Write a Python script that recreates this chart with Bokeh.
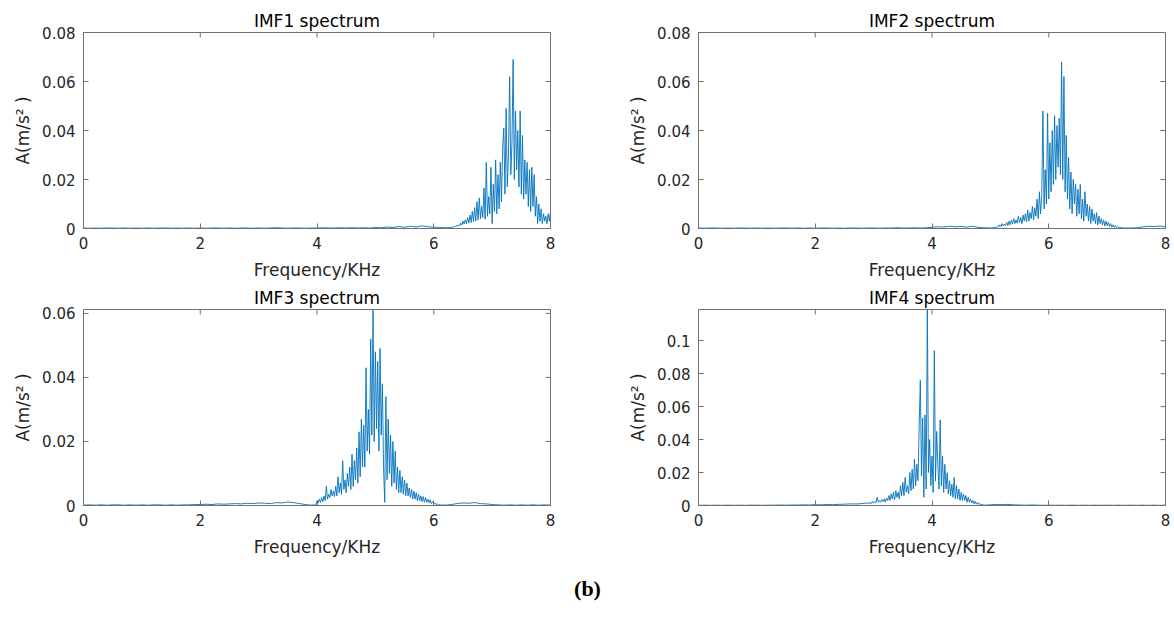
import numpy as np
from bokeh.plotting import figure
from bokeh.models import Range1d, FixedTicker, Label
from bokeh.layouts import column, row
from bokeh.embed import file_html
from bokeh.resources import INLINE

# ---------------- data ----------------
titles = ["IMF1 spectrum", "IMF2 spectrum", "IMF3 spectrum", "IMF4 spectrum"]
x_label = "Frequency/KHz"
y_label = "A(m/s\u00b2 )"
caption = "(b)"
x_ticks = [0, 2, 4, 6, 8]
y_ticks_12 = [0, 0.02, 0.04, 0.06, 0.08]
y_ticks_3 = [0, 0.02, 0.04, 0.06]
y_ticks_4 = [0, 0.02, 0.04, 0.06, 0.08, 0.1]
x_max = 8
y_max = [0.08, 0.08, 0.0612, 0.119]

# IMF1: coarse part 0.0-6.3 kHz (step 0.1), fine part 6.32-8.00 kHz (step 0.02)
imf1_low = [0.0002, 0.0001, 0.0002, 0.0001, 0.0002, 0.0002, 0.0001, 0.0002, 0.0001, 0.0002,
            0.0001, 0.0002, 0.0001, 0.0002, 0.0002, 0.0001, 0.0002, 0.0001, 0.0002, 0.0001,
            0.0002, 0.0001, 0.0002, 0.0002, 0.0001, 0.0002, 0.0001, 0.0002, 0.0002, 0.0001,
            0.0002, 0.0001, 0.0002, 0.0003, 0.0002, 0.0001, 0.0002, 0.0002, 0.0001, 0.0002,
            0.0002, 0.0003, 0.0002, 0.0002, 0.0003, 0.0002, 0.0003, 0.0002, 0.0003, 0.0002,
            0.0004, 0.0003, 0.0006, 0.0004, 0.0008, 0.0005, 0.0009, 0.0006, 0.0011, 0.0007,
            0.0005, 0.0004, 0.0003, 0.0004]
imf1_peak = [0.0005, 0.0008, 0.0006, 0.0012, 0.0009, 0.0015, 0.001, 0.0022, 0.0014, 0.003,
             0.0018, 0.0035, 0.002, 0.0045, 0.0022, 0.0055, 0.0025, 0.007, 0.0028, 0.0085,
             0.003, 0.011, 0.0035, 0.0125, 0.004, 0.009, 0.0045, 0.0165, 0.0038, 0.027,
             0.005, 0.013, 0.006, 0.025, 0.002, 0.018, 0.007, 0.028, 0.006, 0.022,
             0.008, 0.027, 0.011, 0.033, 0.041, 0.014, 0.049, 0.017, 0.03, 0.062,
             0.022, 0.035, 0.069, 0.02, 0.048, 0.024, 0.04, 0.017, 0.048, 0.014,
             0.038, 0.012, 0.028, 0.014, 0.027, 0.009, 0.024, 0.007, 0.025, 0.009,
             0.022, 0.005, 0.013, 0.002, 0.01, 0.003, 0.008, 0.002, 0.006, 0.003,
             0.005, 0.002, 0.006, 0.003, 0.007]

# IMF2: 0.0-5.0 (0.1), 5.10-7.30 (0.02), 7.4-8.0 (0.1)
imf2_low = [0.0002, 0.0001, 0.0002, 0.0002, 0.0001, 0.0002, 0.0001, 0.0002, 0.0002, 0.0001,
            0.0002, 0.0001, 0.0002, 0.0001, 0.0002, 0.0002, 0.0001, 0.0002, 0.0001, 0.0002,
            0.0001, 0.0002, 0.0002, 0.0001, 0.0002, 0.0001, 0.0002, 0.0002, 0.0001, 0.0002,
            0.0002, 0.0001, 0.0002, 0.0002, 0.0003, 0.0002, 0.0002, 0.0003, 0.0002, 0.0003,
            0.0005, 0.0007, 0.0006, 0.0009, 0.0007, 0.0008, 0.0006, 0.0009, 0.0004, 0.0003,
            0.0002]
imf2_peak = [0.0004, 0.001, 0.0006, 0.0015, 0.0008, 0.002, 0.001, 0.0018, 0.0012, 0.0025,
             0.0012, 0.003, 0.0015, 0.0035, 0.0018, 0.004, 0.002, 0.0035, 0.0022, 0.005,
             0.0025, 0.0045, 0.002, 0.0055, 0.003, 0.006, 0.0028, 0.0075, 0.003, 0.0065,
             0.004, 0.009, 0.0035, 0.0085, 0.005, 0.012, 0.004, 0.015, 0.006, 0.013,
             0.048, 0.008, 0.024, 0.01, 0.047, 0.012, 0.035, 0.015, 0.04, 0.018,
             0.046, 0.02, 0.042, 0.025, 0.045, 0.022, 0.068, 0.02, 0.062, 0.015,
             0.038, 0.012, 0.029, 0.008, 0.023, 0.006, 0.02, 0.01, 0.018, 0.005,
             0.016, 0.006, 0.018, 0.004, 0.012, 0.003, 0.015, 0.005, 0.01, 0.003,
             0.009, 0.002, 0.008, 0.003, 0.006, 0.002, 0.0065, 0.0015, 0.005, 0.002,
             0.004, 0.0015, 0.0035, 0.001, 0.003, 0.0012, 0.0025, 0.0008, 0.002, 0.0006,
             0.0015, 0.0005, 0.0012, 0.0004, 0.0008, 0.0003, 0.0005, 0.0002, 0.0004, 0.0002,
             0.0002]
imf2_high = [0.0002, 0.0003, 0.0006, 0.0009, 0.0008, 0.001, 0.0007]

# IMF3: 0.0-3.9 (0.1), 3.96-6.20 (0.02), 6.3-8.0 (0.1)
imf3_low = [0.0001, 0.0002, 0.0001, 0.0002, 0.0001, 0.0002, 0.0002, 0.0001, 0.0002, 0.0001,
            0.0002, 0.0001, 0.0002, 0.0002, 0.0001, 0.0002, 0.0001, 0.0002, 0.0002, 0.0003,
            0.0003, 0.0004, 0.0003, 0.0005, 0.0004, 0.0005, 0.0006, 0.0005, 0.0007, 0.0006,
            0.0008, 0.0007, 0.0006, 0.0009, 0.0008, 0.0011, 0.0009, 0.0006, 0.0003, 0.0001]
imf3_peak = [0.0002, 0.0001, 0.0015, 0.0008, 0.002, 0.001, 0.0025, 0.0012, 0.003, 0.0015,
             0.006, 0.002, 0.0035, 0.0025, 0.005, 0.003, 0.0045, 0.0028, 0.006, 0.003,
             0.009, 0.004, 0.007, 0.0035, 0.014, 0.005, 0.008, 0.004, 0.01, 0.006,
             0.012, 0.005, 0.016, 0.006, 0.014, 0.008, 0.018, 0.007, 0.023, 0.009,
             0.027, 0.012, 0.025, 0.012, 0.043, 0.017, 0.03, 0.016, 0.052, 0.022,
             0.061, 0.02, 0.048, 0.024, 0.045, 0.017, 0.049, 0.022, 0.038, 0.012,
             0.001, 0.034, 0.008, 0.027, 0.01, 0.022, 0.006, 0.02, 0.007, 0.017,
             0.005, 0.012, 0.004, 0.011, 0.004, 0.009, 0.0035, 0.008, 0.003, 0.007,
             0.003, 0.0055, 0.0025, 0.005, 0.002, 0.0045, 0.002, 0.004, 0.0015, 0.0035,
             0.0015, 0.003, 0.0012, 0.0028, 0.001, 0.0025, 0.001, 0.002, 0.0008, 0.0018,
             0.0006, 0.0012, 0.0005, 0.0008, 0.0003, 0.0005, 0.0002, 0.0003, 0.0001, 0.0002,
             0.0001, 0.0002, 0.0001]
imf3_high = [0.0003, 0.0006, 0.0008, 0.0007, 0.0009, 0.0006, 0.0005, 0.0003, 0.0002, 0.0001,
             0.0002, 0.0001, 0.0002, 0.0001, 0.0002, 0.0001, 0.0002, 0.0001]

# IMF4: 0.0-2.8 (0.1), 2.90-4.90 (0.02), 5.0-8.0 (0.1)
imf4_low = [0.0001, 0.0002, 0.0001, 0.0002, 0.0001, 0.0002, 0.0001, 0.0002, 0.0001, 0.0002,
            0.0002, 0.0001, 0.0002, 0.0002, 0.0003, 0.0002, 0.0003, 0.0003, 0.0004, 0.0003,
            0.0005, 0.0004, 0.0006, 0.0005, 0.0007, 0.0008, 0.0010, 0.0009, 0.0012]
imf4_peak = [0.0015, 0.001, 0.002, 0.0012, 0.0025, 0.0015, 0.0022, 0.0018, 0.005, 0.002,
             0.003, 0.002, 0.0035, 0.0025, 0.004, 0.002, 0.0045, 0.003, 0.006, 0.003,
             0.007, 0.004, 0.008, 0.0035, 0.009, 0.005, 0.008, 0.004, 0.012, 0.006,
             0.014, 0.006, 0.017, 0.008, 0.012, 0.007, 0.02, 0.009, 0.022, 0.01,
             0.028, 0.012, 0.025, 0.015, 0.048, 0.076, 0.018, 0.053, 0.005, 0.055,
             0.01, 0.119, 0.02, 0.04, 0.012, 0.03, 0.008, 0.094, 0.015, 0.045,
             0.025, 0.01, 0.052, 0.012, 0.03, 0.008, 0.025, 0.01, 0.02, 0.007,
             0.015, 0.006, 0.013, 0.005, 0.017, 0.004, 0.012, 0.004, 0.01, 0.003,
             0.008, 0.003, 0.007, 0.003, 0.006, 0.002, 0.005, 0.002, 0.004, 0.0015,
             0.003, 0.001, 0.0025, 0.0008, 0.002, 0.0006, 0.0012, 0.0004, 0.0008, 0.0003,
             0.0002]
imf4_high = [0.0004, 0.0006, 0.0005, 0.0007, 0.0004, 0.0003, 0.0002, 0.0003, 0.0002, 0.0001,
             0.0002, 0.0001, 0.0002, 0.0001, 0.0002, 0.0001, 0.0002, 0.0001, 0.0002, 0.0001,
             0.0002, 0.0001, 0.0002, 0.0001, 0.0002, 0.0001, 0.0002, 0.0001, 0.0002, 0.0001,
             0.0002]

# (start frequency in kHz, frequency step in kHz, amplitudes)
spectra = [
    [(0.0, 0.1, imf1_low), (6.32, 0.02, imf1_peak)],
    [(0.0, 0.1, imf2_low), (5.10, 0.02, imf2_peak), (7.4, 0.1, imf2_high)],
    [(0.0, 0.1, imf3_low), (3.96, 0.02, imf3_peak), (6.3, 0.1, imf3_high)],
    [(0.0, 0.1, imf4_low), (2.90, 0.02, imf4_peak), (5.0, 0.1, imf4_high)],
]
y_ticks = [y_ticks_12, y_ticks_12, y_ticks_3, y_ticks_4]

# ---------------- styling ----------------
LINE = "#0072BD"
AX = "#707070"
TXT = "#262626"
FONT = "DejaVu Sans"
FW, FH = 467, 196
TICK = 5


def tick_text(v):
    return "0" if v == 0 else ("%g" % v)


def make_panel(i, top_row, left_col):
    fig = figure(
        frame_width=FW, frame_height=FH,
        x_range=Range1d(0, x_max), y_range=Range1d(0, y_max[i]),
        output_backend="svg", toolbar_location=None,
        min_border_left=83,
        min_border_right=65 if left_col else 9,
        min_border_top=32 if top_row else 27,
        min_border_bottom=54 if top_row else 60,
        background_fill_color="white", border_fill_color="white",
    )
    fig.title.text = titles[i]
    fig.title.align = "center"
    fig.title.text_font = FONT
    fig.title.text_font_size = "17px"
    fig.title.text_font_style = "normal"
    fig.title.text_color = "black"
    fig.title.standoff = 4

    fig.xgrid.visible = False
    fig.ygrid.visible = False
    fig.outline_line_color = AX
    fig.outline_line_width = 1

    xs, ys = [], []
    for start, step, vals in spectra[i]:
        xs.append(np.round(start + step * np.arange(len(vals)), 4))
        ys.append(np.asarray(vals, dtype=float))
    fig.line(np.concatenate(xs), np.concatenate(ys), line_color=LINE, line_width=0.9)

    for ax in (fig.xaxis[0], fig.yaxis[0]):
        ax.axis_line_color = AX
        ax.major_tick_line_color = AX
        ax.minor_tick_line_color = None
        ax.major_tick_in = TICK
        ax.major_tick_out = 0
        ax.major_label_text_font = FONT
        ax.major_label_text_font_size = "15px"
        ax.major_label_text_color = TXT
        ax.axis_label_text_font = FONT
        ax.axis_label_text_font_size = "17px"
        ax.axis_label_text_font_style = "normal"
        ax.axis_label_text_color = TXT

    fig.xaxis[0].ticker = FixedTicker(ticks=x_ticks)
    fig.xaxis[0].major_label_overrides = {t: tick_text(t) for t in x_ticks}
    fig.xaxis[0].axis_label = x_label
    fig.xaxis[0].major_label_standoff = 8
    fig.xaxis[0].axis_label_standoff = 8

    fig.yaxis[0].ticker = FixedTicker(ticks=y_ticks[i])
    fig.yaxis[0].major_label_overrides = {t: tick_text(t) for t in y_ticks[i]}
    fig.yaxis[0].axis_label = y_label
    fig.yaxis[0].major_label_standoff = 8
    fig.yaxis[0].axis_label_standoff = 6

    # mirrored inward ticks on the top and right edges of the box
    ym = y_max[i]
    tx = [t for t in x_ticks if 0 < t < x_max]
    fig.segment(x0=tx, y0=[ym] * len(tx), x1=tx, y1=[ym - TICK * ym / FH] * len(tx),
                line_color=AX, line_width=1)
    ty = [t for t in y_ticks[i] if 0 < t < ym]
    fig.segment(x0=[x_max] * len(ty), y0=ty, x1=[x_max - TICK * x_max / FW] * len(ty), y1=ty,
                line_color=AX, line_width=1)
    return fig


p1 = make_panel(0, True, True)
p2 = make_panel(1, True, False)
p3 = make_panel(2, False, True)
p4 = make_panel(3, False, False)

cap = figure(frame_width=1174, frame_height=52, x_range=Range1d(0, 1), y_range=Range1d(0, 1),
             output_backend="svg", toolbar_location=None, min_border=0,
             x_axis_location=None, y_axis_location=None, outline_line_color=None,
             border_fill_color="white", background_fill_color="white")
cap.xgrid.visible = False
cap.ygrid.visible = False
cap.add_layout(Label(x=587, y=29, x_units="screen", y_units="screen", text=caption,
                     text_font="Liberation Serif", text_font_style="bold", text_font_size="22px",
                     text_align="center", text_baseline="middle", text_color="black"))

layout = column(row(p1, p2, spacing=0), row(p3, p4, spacing=0), cap, spacing=0)

with open("out.html", "w") as f:
    f.write(file_html(layout, INLINE))
